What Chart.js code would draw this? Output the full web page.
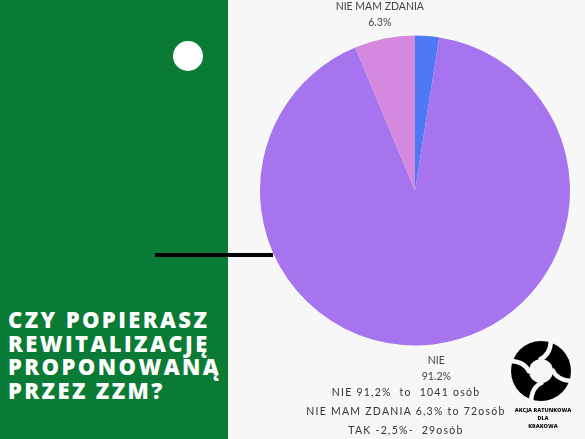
<!DOCTYPE html>
<html><head><meta charset="utf-8">
<script src="https://cdn.jsdelivr.net/npm/chart.js@4"></script>
<style>
html,body{margin:0;padding:0;width:585px;height:439px;overflow:hidden;background:#f7f7f7;}
#green{position:absolute;left:0;top:0;width:228px;height:439px;background:#0a7b35;}
#dot{position:absolute;left:173px;top:41px;width:30px;height:30px;border-radius:50%;background:#fff;}
#bar{position:absolute;left:155px;top:253px;width:118px;height:4px;background:#000;z-index:3;}
#head{position:absolute;left:8px;top:308px;color:#fff;font-family:"Open Sans",sans-serif;font-weight:800;font-size:22px;line-height:23.5px;letter-spacing:2.4px;white-space:nowrap;}
#wrap{position:absolute;left:225px;top:0;width:360px;height:439px;z-index:2;}
#notes{position:absolute;left:300px;top:383px;width:212px;text-align:center;font-family:"Lato",sans-serif;font-size:10.5px;color:#333;letter-spacing:1.25px;line-height:19px;white-space:nowrap;z-index:4;}
#logo{position:absolute;left:510px;top:340px;z-index:4;}
#logotxt{position:absolute;left:507px;top:406px;width:72px;text-align:center;font-family:"Open Sans",sans-serif;font-weight:800;font-size:5.5px;line-height:8px;color:#111;z-index:4;}
</style></head>
<body>
<div id="green"></div>
<div id="dot"></div>
<div id="bar"></div>
<div id="head">CZY POPIERASZ<br>REWITALIZACJĘ<br>PROPONOWANĄ<br>PRZEZ ZZM?</div>
<div id="wrap"><canvas id="c" width="360" height="439"></canvas></div>
<div id="notes">NIE 91,2%&nbsp; to&nbsp; 1041 osób<br>NIE MAM ZDANIA 6,3% to 72osób<br>TAK -2,5%-&nbsp; 29osób</div>
<svg id="logo" width="62" height="62" viewBox="-31 -31 62 62">
<circle r="30" fill="#000"/>
<circle r="12" fill="#f7f7f7"/>
<g fill="none" stroke="#f7f7f7" stroke-width="4.5">
<path d="M-2,-11 Q10,-16 10,-32"/>
<path d="M11,-2 Q16,10 32,10"/>
<path d="M2,11 Q-10,16 -10,32"/>
<path d="M-11,2 Q-16,-10 -32,-10"/>
</g>
</svg>
<div id="logotxt">AKCJA RATUNKOWA<br>DLA<br>KRAKOWA</div>
<script>
const categories = ["TAK", "NIE", "NIE MAM ZDANIA"];
const values = [2.5, 91.2, 6.3];
const sliceColors = ["#4f78f5", "#a674ee", "#d489df"];
const shownLabels = ["NIE", "NIE MAM ZDANIA"];

const labelPlugin = {
  id: 'outerLabels',
  afterDatasetsDraw(chart) {
    const ctx = chart.ctx;
    const meta = chart.getDatasetMeta(0);
    ctx.save();
    ctx.font = '10.5px Lato, sans-serif';
    ctx.fillStyle = '#444';
    ctx.textAlign = 'center';
    ctx.textBaseline = 'middle';
    meta.data.forEach((arc, i) => {
      if (!shownLabels.includes(categories[i])) return;
      const mid = (arc.startAngle + arc.endAngle) / 2;
      const r = arc.outerRadius + 24;
      const x = arc.x + Math.cos(mid) * r;
      const y = arc.y + Math.sin(mid) * r;
      ctx.fillText(categories[i], x, y - 8);
      ctx.fillText(values[i].toFixed(1) + '%', x, y + 8);
    });
    ctx.restore();
  }
};

new Chart(document.getElementById('c'), {
  type: 'pie',
  data: {
    labels: categories,
    datasets: [{ data: values, backgroundColor: sliceColors, borderWidth: 0 }]
  },
  options: {
    responsive: false,
    animation: false,
    layout: { padding: { left: 35, right: 15, top: 35, bottom: 93 } },
    plugins: { legend: { display: false }, tooltip: { enabled: false } }
  },
  plugins: [labelPlugin]
});
</script>
</body></html>
